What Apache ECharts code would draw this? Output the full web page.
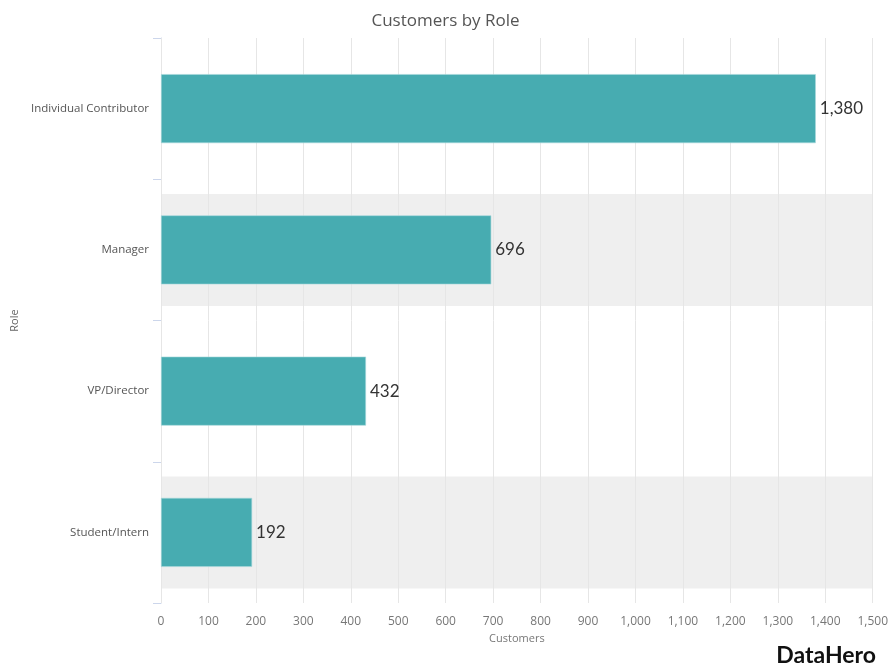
<!DOCTYPE html>
<html>
<head>
<meta charset="utf-8">
<script src="https://cdn.jsdelivr.net/npm/echarts@6/dist/echarts.min.js"></script>
<style>html,body{margin:0;padding:0;background:#fff;}#chart{width:891px;height:669px;}</style>
</head>
<body>
<div id="chart"></div>
<script>
var categories = ['Individual Contributor', 'Manager', 'VP/Director', 'Student/Intern'];
var customers = [1380, 696, 432, 192];
var bandValues = [0, 1500, 0, 1500];
var xMin = 0, xMax = 1500, xStep = 100;

var chart = echarts.init(document.getElementById('chart'));
var FONT = '"Open Sans", Lato, sans-serif';
var VFONT = 'Lato, "Open Sans", sans-serif';
function fmt(v) { return Number(v).toLocaleString('en-US'); }

chart.setOption({
  animation: false,
  backgroundColor: '#ffffff',
  title: {
    text: 'Customers by Role',
    left: 'center', top: 8,
    textStyle: { fontFamily: FONT, fontSize: 17, fontWeight: 'normal', color: '#555555' }
  },
  grid: { left: 161, right: 16, top: 38, bottom: 66 },
  xAxis: {
    type: 'value', min: xMin, max: xMax, interval: xStep, z: 1,
    name: 'Customers', nameLocation: 'middle', nameGap: 29,
    nameTextStyle: { fontFamily: FONT, fontSize: 11, color: '#777777' },
    axisLine: { show: false }, axisTick: { show: false },
    axisLabel: { fontFamily: FONT, fontSize: 12, color: '#777777', margin: 13, formatter: fmt },
    splitLine: { show: true, lineStyle: { color: '#e6e6e6', width: 1 } }
  },
  yAxis: [{
    type: 'category', data: categories, inverse: true,
    name: 'Role', nameLocation: 'middle', nameGap: 141, nameRotate: 90,
    nameTextStyle: { fontFamily: FONT, fontSize: 11, color: '#666666' },
    axisLine: { show: true, lineStyle: { color: '#ccd6eb' } },
    axisTick: { show: true, length: 8, lineStyle: { color: '#ccd6eb' } },
    axisLabel: { fontFamily: FONT, fontSize: 11.5, color: '#555555', margin: 12 },
    splitLine: { show: false }
  }, {
    type: 'category', data: categories, inverse: true, show: false
  }],
  series: [{
    type: 'bar', yAxisIndex: 1, data: bandValues, barWidth: 112, z: 0, silent: true,
    itemStyle: { color: '#efefef' }
  }, {
    type: 'bar', yAxisIndex: 0, data: customers, barWidth: 69, z: 2,
    itemStyle: { color: '#47acb1', borderColor: '#a8d8db', borderWidth: 0.6 },
    label: {
      show: true, position: 'right', distance: 4,
      fontFamily: VFONT, fontSize: 17, color: '#333333', formatter: function (p) { return fmt(p.value); }
    }
  }],
  graphic: [{
    type: 'text', right: 15, bottom: 2,
    style: { text: 'DataHero', font: 'bold 23px Lato, sans-serif', fill: '#111111' }
  }]
});
</script>
</body>
</html>
